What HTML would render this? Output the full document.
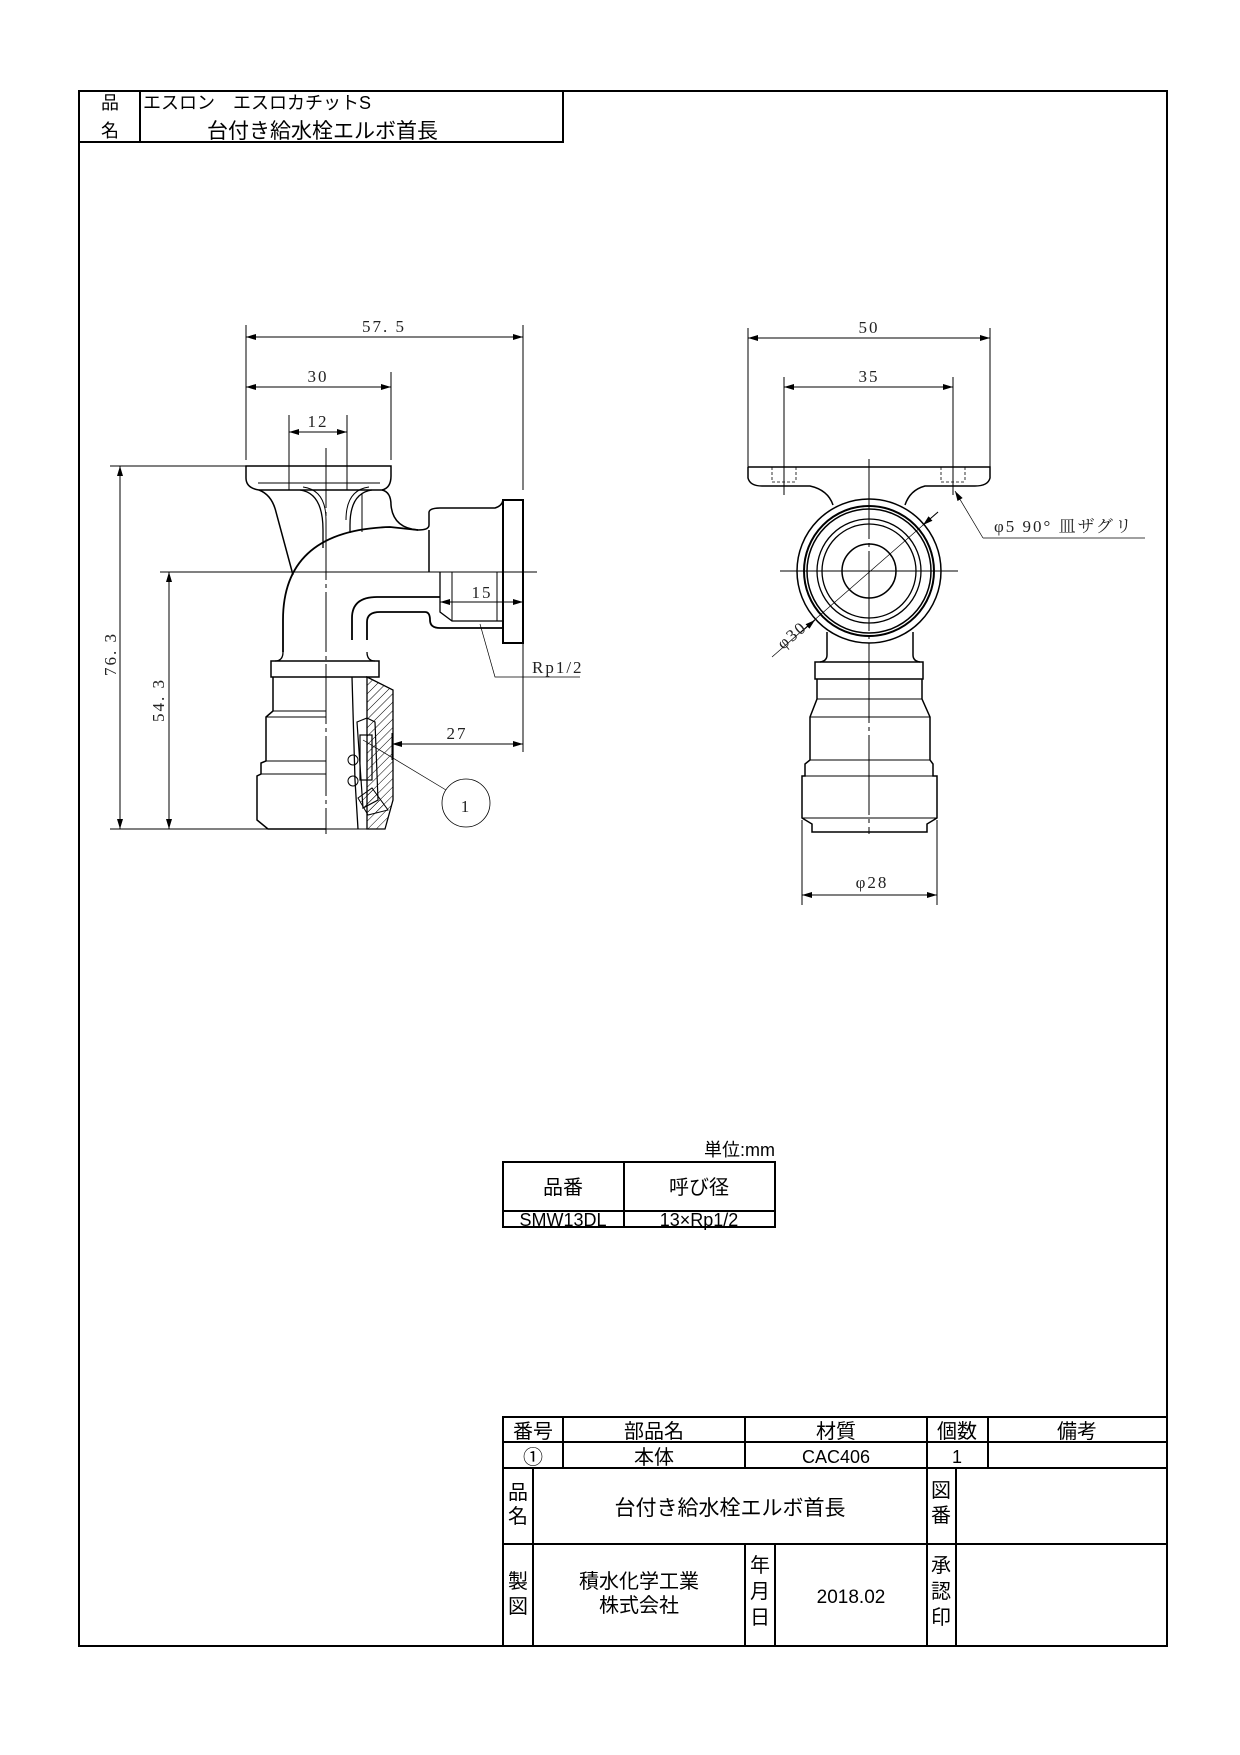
<!DOCTYPE html>
<html><head><meta charset="utf-8"><style>
html,body{margin:0;padding:0;background:#fff}
svg{display:block}
.g{font-family:"Liberation Sans","Noto Sans CJK JP",sans-serif;fill:#000}
.d{font-family:"Liberation Serif","Noto Serif CJK JP",serif;fill:#222;font-size:17px;letter-spacing:2px}
</style></head><body>
<svg width="1240" height="1755" viewBox="0 0 1240 1755" xmlns="http://www.w3.org/2000/svg">
<defs>
<marker id="a" viewBox="0 0 10 6" refX="10" refY="3" markerWidth="10" markerHeight="6" orient="auto-start-reverse" markerUnits="userSpaceOnUse"><path d="M0,0 L10,3 L0,6 z" fill="#000"/></marker>
<pattern id="h" width="6" height="6" patternUnits="userSpaceOnUse" patternTransform="rotate(45)"><line x1="0" y1="0" x2="0" y2="6" stroke="#000" stroke-width="1"/></pattern>
</defs>
<rect x="79" y="91" width="1088" height="1555" fill="none" stroke="#000" stroke-width="2"/>
<rect x="79" y="91" width="484" height="51" fill="none" stroke="#000" stroke-width="2"/>
<line x1="140" y1="91" x2="140" y2="142" stroke="#000" stroke-width="2"/>
<text class="g" x="101" y="109" font-size="18">品</text>
<text class="g" x="101" y="137" font-size="18">名</text>
<text class="g" x="143" y="109" font-size="18">エスロン　エスロカチットS</text>
<text class="g" x="207" y="138" font-size="21">台付き給水栓エルボ首長</text>

<g stroke="#000" fill="none" stroke-width="1">
<line x1="246" y1="325" x2="246" y2="460"/>
<line x1="523" y1="325" x2="523" y2="490"/>
<line x1="523" y1="643" x2="523" y2="752"/>
<line x1="391" y1="372" x2="391" y2="460"/>
<line x1="289" y1="415" x2="289" y2="490"/>
<line x1="347" y1="415" x2="347" y2="490"/>
<line x1="246" y1="337" x2="523" y2="337" marker-start="url(#a)" marker-end="url(#a)"/>
<line x1="246" y1="387" x2="391" y2="387" marker-start="url(#a)" marker-end="url(#a)"/>
<line x1="289" y1="432" x2="347" y2="432" marker-start="url(#a)" marker-end="url(#a)"/>
<line x1="110" y1="466" x2="246" y2="466"/>
<line x1="110" y1="829" x2="380" y2="829"/>
<line x1="120" y1="466" x2="120" y2="829" marker-start="url(#a)" marker-end="url(#a)"/>
<line x1="169" y1="572" x2="169" y2="829" marker-start="url(#a)" marker-end="url(#a)"/>
<line x1="160" y1="572" x2="537" y2="572"/>
<line x1="326" y1="448" x2="326" y2="834" stroke-dasharray="60,4,4,4"/>
<line x1="440" y1="602" x2="523" y2="602" marker-start="url(#a)" marker-end="url(#a)"/>
<line x1="392" y1="733" x2="392" y2="760"/>
<line x1="392" y1="744" x2="523" y2="744" marker-start="url(#a)" marker-end="url(#a)"/>
<polyline points="480,624 495,677 580,677" stroke-width="0.7"/>
<line x1="363" y1="740" x2="446" y2="790" stroke-width="0.7"/>
<circle cx="466" cy="803" r="24" stroke-width="0.8"/>
<path d="M246 466 L391 466 L391 476 Q391 488 382 490 L259 490 Q246 488 246 478 Z" stroke-width="1.5"/>
<line x1="258" y1="483" x2="380" y2="483"/>
<path d="M259 490 Q272 495 276 512 L293 575" stroke-width="1.5"/>
<path d="M300 490 Q323 493 323 530 L323 548" stroke-width="1.3"/>
<path d="M303 487 Q326 490 326 520"/>
<path d="M372 490 Q350 493 350 525 L350 533" stroke-width="1.3"/>
<path d="M369 487 Q346 490 346 520"/>
<line x1="362" y1="493" x2="362" y2="532"/>
<path d="M382 490 Q391 492 391 505 Q393 528 418 530 Q429 530 429 525 L429 512 Q430 508 440 508 L495 508 Q502 506 503 500" stroke-width="1.5"/>
<rect x="503" y="500" width="20" height="143" stroke-width="2"/>
<line x1="429" y1="530" x2="429" y2="572" stroke-width="1.5"/>
<path d="M283 652 L283 620 Q283 530 390 527 L418 530" stroke-width="1.8"/>
<path d="M352 640 L352 618 Q352 597 377 597 L440 597" stroke-width="1.8"/>
<path d="M367 640 L367 622 Q367 612 380 612 L425 612 Q430 612 430 620 Q430 628 440 628 L503 628" stroke-width="1.8"/>
<path d="M440 572 L440 612 L452 621 L503 621" stroke-width="1.3"/>
<line x1="452" y1="572" x2="452" y2="621"/>
<line x1="497" y1="572" x2="497" y2="621"/>
<line x1="503" y1="572" x2="503" y2="643"/>
<rect x="271" y="661" width="108" height="16" stroke-width="1.5"/>
<path d="M283 652 Q283 661 275 661" stroke-width="1.3"/>
<path d="M367 652 Q367 661 375 661" stroke-width="1.3"/>
<path d="M273 677 L273 711 L266 717 L266 761 L261 763 L261 774 L257 776 L257 820 L268 829 L326 829" stroke-width="1.5"/>
<line x1="273" y1="711" x2="326" y2="711"/><line x1="266" y1="717" x2="326" y2="717"/>
<line x1="266" y1="761" x2="326" y2="761"/><line x1="261" y1="774" x2="326" y2="774"/>
<line x1="326" y1="677" x2="352" y2="677"/>
<path d="M352 677 L355 780 L358 829" stroke-width="1.3"/>
<path d="M367 677 L393 690 L393 800 L385 829 L367 829 Z" fill="url(#h)" stroke-width="1.3"/>
<path d="M357 722 L367 718 L375 722 L378 800 L363 808 Z" stroke-width="1.2"/>
<rect x="360" y="735" width="12" height="45" stroke-width="1.2"/>
<circle cx="353" cy="760" r="5"/><circle cx="353" cy="781" r="5"/>
<path d="M358 798 L372 788 L388 810 L368 815 Z" fill="url(#h)"/>
</g>
<text class="d" x="384" y="332" text-anchor="middle">57. 5</text>
<text class="d" x="318" y="382" text-anchor="middle">30</text>
<text class="d" x="318" y="427" text-anchor="middle">12</text>
<text class="d" x="482" y="598" text-anchor="middle">15</text>
<text class="d" x="532" y="673">Rp1/2</text>
<text class="d" x="457" y="739" text-anchor="middle">27</text>
<text class="d" x="466" y="812" text-anchor="middle" font-size="24">1</text>
<text class="d" transform="translate(116,654) rotate(-90)" text-anchor="middle">76. 3</text>
<text class="d" transform="translate(164,700) rotate(-90)" text-anchor="middle">54. 3</text>

<g stroke="#000" fill="none" stroke-width="1">
<line x1="748" y1="328" x2="748" y2="470"/>
<line x1="990" y1="328" x2="990" y2="470"/>
<line x1="784" y1="377" x2="784" y2="495"/>
<line x1="953" y1="377" x2="953" y2="495"/>
<line x1="748" y1="338" x2="990" y2="338" marker-start="url(#a)" marker-end="url(#a)"/>
<line x1="784" y1="387" x2="953" y2="387" marker-start="url(#a)" marker-end="url(#a)"/>
<path d="M748 467 L990 467 L990 478 Q988 486 975 486 L925 486 Q910 490 905 505 M748 467 L748 478 Q750 486 762 486 L810 486 Q828 490 833 505" stroke-width="1.5"/>
<g stroke-dasharray="3,2" stroke-width="0.8"><line x1="772" y1="467" x2="772" y2="482"/><line x1="796" y1="467" x2="796" y2="482"/><line x1="941" y1="467" x2="941" y2="482"/><line x1="965" y1="467" x2="965" y2="482"/><line x1="772" y1="482" x2="796" y2="482"/><line x1="941" y1="482" x2="965" y2="482"/></g>
<circle cx="869" cy="571" r="72" stroke-width="1.5"/>
<circle cx="869" cy="571" r="65" stroke-width="2"/>
<circle cx="869" cy="571" r="62" stroke-width="1.5"/>
<circle cx="869" cy="571" r="52" stroke-width="1.3"/>
<circle cx="869" cy="571" r="47" stroke-width="1.3"/>
<circle cx="869" cy="571" r="27" stroke-width="1.5"/>
<line x1="869" y1="459" x2="869" y2="834" stroke-dasharray="80,4,4,4"/>
<line x1="780" y1="571" x2="958" y2="571"/>
<line x1="772" y1="657" x2="938" y2="512" stroke-width="0.7"/>
<line x1="800" y1="633" x2="815" y2="620" marker-end="url(#a)"/>
<line x1="938" y1="512" x2="923" y2="525" marker-end="url(#a)"/>
<polyline points="983,538 955,491" marker-end="url(#a)" stroke-width="0.7"/>
<line x1="983" y1="538" x2="1145" y2="538" stroke-width="0.7"/>
<path d="M827 632 L827 655 Q827 661 820 662 M913 632 L913 655 Q913 661 920 662" stroke-width="1.5"/>
<rect x="815" y="662" width="108" height="17" stroke-width="1.5"/>
<path d="M817 679 L817 699 L810 717 L810 760 L805 764 L805 776 L802 776 L802 818 L812 824 L812 832 L927 832 L927 824 L937 818 L937 776 L933 776 L933 764 L930 760 L930 717 L922 699 L922 679" stroke-width="1.5"/>
<line x1="817" y1="699" x2="922" y2="699"/><line x1="810" y1="717" x2="930" y2="717"/>
<line x1="810" y1="760" x2="930" y2="760"/><line x1="805" y1="776" x2="933" y2="776"/>
<line x1="802" y1="818" x2="937" y2="818"/>
<line x1="802" y1="820" x2="802" y2="905"/><line x1="937" y1="820" x2="937" y2="905"/>
<line x1="802" y1="895" x2="937" y2="895" marker-start="url(#a)" marker-end="url(#a)"/>
</g>
<text class="d" x="869" y="333" text-anchor="middle">50</text>
<text class="d" x="869" y="382" text-anchor="middle">35</text>
<text class="d" x="872" y="888" text-anchor="middle">φ28</text>
<text class="d" x="994" y="532">φ5 90°  皿ザグリ</text>
<text class="d" transform="translate(783,650) rotate(-40)">φ30</text>

<text class="g" x="775" y="1156" text-anchor="end" font-size="18">単位:mm</text>
<g stroke="#000" stroke-width="2" fill="none">
<rect x="503" y="1162" width="272" height="65"/>
<line x1="503" y1="1211" x2="775" y2="1211"/>
<line x1="624" y1="1162" x2="624" y2="1227"/>
</g>
<text class="g" x="563" y="1194" text-anchor="middle" font-size="20">品番</text>
<text class="g" x="699" y="1194" text-anchor="middle" font-size="20">呼び径</text>
<text class="g" x="563" y="1226" text-anchor="middle" font-size="18">SMW13DL</text>
<text class="g" x="699" y="1226" text-anchor="middle" font-size="18">13×Rp1/2</text>

<g stroke="#000" stroke-width="2" fill="none">
<rect x="503" y="1417" width="664" height="229"/>
<line x1="503" y1="1442" x2="1167" y2="1442"/>
<line x1="503" y1="1468" x2="1167" y2="1468"/>
<line x1="503" y1="1544" x2="1167" y2="1544"/>
<line x1="563" y1="1417" x2="563" y2="1468"/>
<line x1="745" y1="1417" x2="745" y2="1468"/>
<line x1="927" y1="1417" x2="927" y2="1646"/>
<line x1="988" y1="1417" x2="988" y2="1468"/>
<line x1="533" y1="1468" x2="533" y2="1646"/>
<line x1="745" y1="1544" x2="745" y2="1646"/>
<line x1="775" y1="1544" x2="775" y2="1646"/>
<line x1="956" y1="1468" x2="956" y2="1646"/>
</g>
<g class="g" font-size="20" text-anchor="middle">
<text x="533" y="1438">番号</text>
<text x="654" y="1438">部品名</text>
<text x="836" y="1438">材質</text>
<text x="957" y="1438">個数</text>
<text x="1077" y="1438">備考</text>
<text x="533" y="1464">①</text>
<text x="654" y="1464">本体</text>
<text x="836" y="1463" font-size="18">CAC406</text>
<text x="957" y="1463" font-size="18">1</text>
<text x="518" y="1499">品</text><text x="518" y="1523">名</text>
<text x="730" y="1515" font-size="21">台付き給水栓エルボ首長</text>
<text x="941" y="1497">図</text><text x="941" y="1522">番</text>
<text x="518" y="1588">製</text><text x="518" y="1613">図</text>
<text x="639" y="1588" font-size="20">積水化学工業</text>
<text x="639" y="1612" font-size="20">株式会社</text>
<text x="760" y="1572">年</text><text x="760" y="1598">月</text><text x="760" y="1624">日</text>
<text x="851" y="1603" font-size="19">2018.02</text>
<text x="941" y="1572">承</text><text x="941" y="1598">認</text><text x="941" y="1624">印</text>
</g>
</svg>
</body></html>
